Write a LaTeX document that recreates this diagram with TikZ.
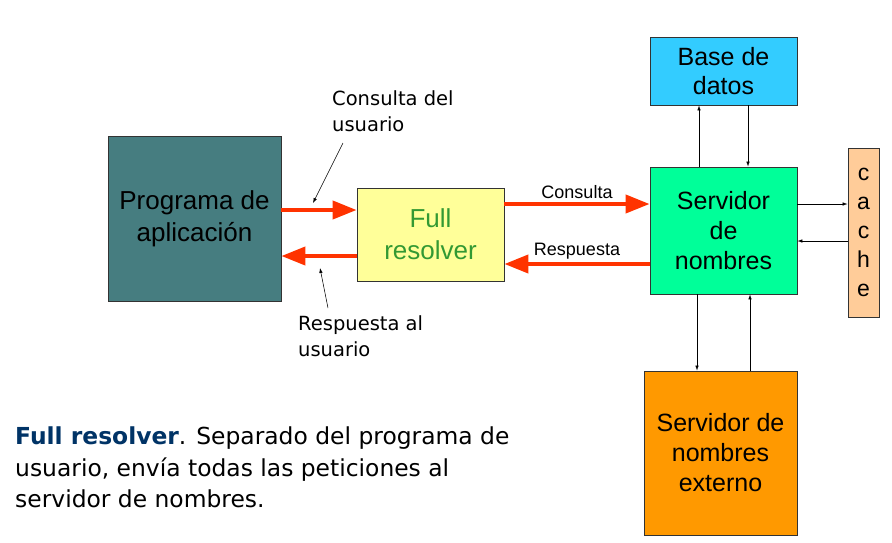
\documentclass[tikz,border=0pt]{standalone}
\usepackage{fontspec}
\setmainfont{Liberation Sans}
\newfontfamily\verd{DejaVu Sans}
\usetikzlibrary{arrows.meta}
\definecolor{teal1}{HTML}{467D80}
\definecolor{yel1}{HTML}{FFFF99}
\definecolor{grn1}{HTML}{339933}
\definecolor{blue1}{HTML}{33CCFF}
\definecolor{mint1}{HTML}{00FF99}
\definecolor{peach1}{HTML}{FFCC99}
\definecolor{orng1}{HTML}{FF9900}
\definecolor{red1}{HTML}{FF3300}
\definecolor{navy1}{HTML}{003366}
\tikzset{
  box/.style={draw=black!80, line width=0.8pt, inner sep=0pt, align=center},
  redarrow/.style={draw=red1, line width=4pt, -{Triangle[length=24pt,width=18pt]}},
  thin/.style={draw=black, line width=0.6pt, -{Latex[length=5pt,width=3.5pt]}},
  lbl/.style={font=\verd\fontsize{19.5}{26}\selectfont, align=left, inner sep=0pt, anchor=north west},
  small/.style={text=black, font=\fontsize{18}{20}\selectfont, inner sep=1pt},
}
\begin{document}
\begin{tikzpicture}[x=1pt,y=-1pt]
\useasboundingbox (0,0) rectangle (892,542);
% boxes
\node[box, fill=teal1, minimum width=173pt, minimum height=165pt, font=\fontsize{26}{32}\selectfont] (prog) at (194.5,218.5) {Programa de\\aplicación};
\node[box, fill=yel1, minimum width=147pt, minimum height=93pt, text=grn1, font=\fontsize{26}{32}\selectfont] (full) at (430.5,234.5) {Full\\resolver};
\node[box, fill=blue1, minimum width=147pt, minimum height=68pt, font=\fontsize{25}{29}\selectfont] (base) at (723.5,71) {Base de\\datos};
\node[box, fill=mint1, minimum width=147pt, minimum height=127pt, font=\fontsize{25}{30}\selectfont] (serv) at (723.5,230.5) {Servidor\\de\\nombres};
\node[box, fill=peach1, minimum width=31pt, minimum height=169pt, font=\fontsize{23}{29}\selectfont] (cache) at (863.5,232.5) {c\\a\\c\\h\\e};
\node[box, fill=orng1, minimum width=153pt, minimum height=164pt, font=\fontsize{25}{30}\selectfont] (ext) at (720.5,453) {Servidor de\\nombres\\externo};
% red arrows
\draw[redarrow] (prog.east |- 0,210) -- (full.west |- 0,210);
\draw[redarrow] (full.west |- 0,256) -- (prog.east |- 0,256);
\draw[redarrow] (full.east |- 0,204) -- node[above=2pt, small] (lc) {Consulta} (serv.west |- 0,204);
\draw[redarrow] (serv.west |- 0,264) -- node[above=2pt, small] (lr) {Respuesta} (full.east |- 0,264);
% thin arrows
\draw[thin] (serv.north -| 699,0) -- (base.south -| 699,0);
\draw[thin] (base.south -| 748,0) -- (serv.north -| 748,0);
\draw[thin] (serv.east |- 0,204) -- (cache.west |- 0,204);
\draw[thin] (cache.west |- 0,241) -- (serv.east |- 0,241);
\draw[thin] (serv.south -| 697,0) -- (ext.north -| 697,0);
\draw[thin] (ext.north -| 750,0) -- (serv.south -| 750,0);
% labels
\node[lbl] (l1) at (332,90) {Consulta del\\usuario};
\coordinate (l1a) at (343,143);
\coordinate (l1b) at (313,203);
\draw[thin, line width=0.5pt] (l1a) -- (l1b);
\node[lbl] (l2) at (298,315) {Respuesta al\\usuario};
\coordinate (l2a) at (328,308);
\coordinate (l2b) at (320,268);
\draw[thin, line width=0.5pt] (l2a) -- (l2b);
% bottom text
\node[font=\verd\fontsize{23.4}{31.5}\selectfont, align=left, inner sep=0pt, anchor=north west] (txt) at (15,427) {\textcolor{navy1}{\textbf{Full resolver}}. Separado del programa de\\usuario, envía todas las peticiones al\\servidor de nombres.};
\end{tikzpicture}
\end{document}
